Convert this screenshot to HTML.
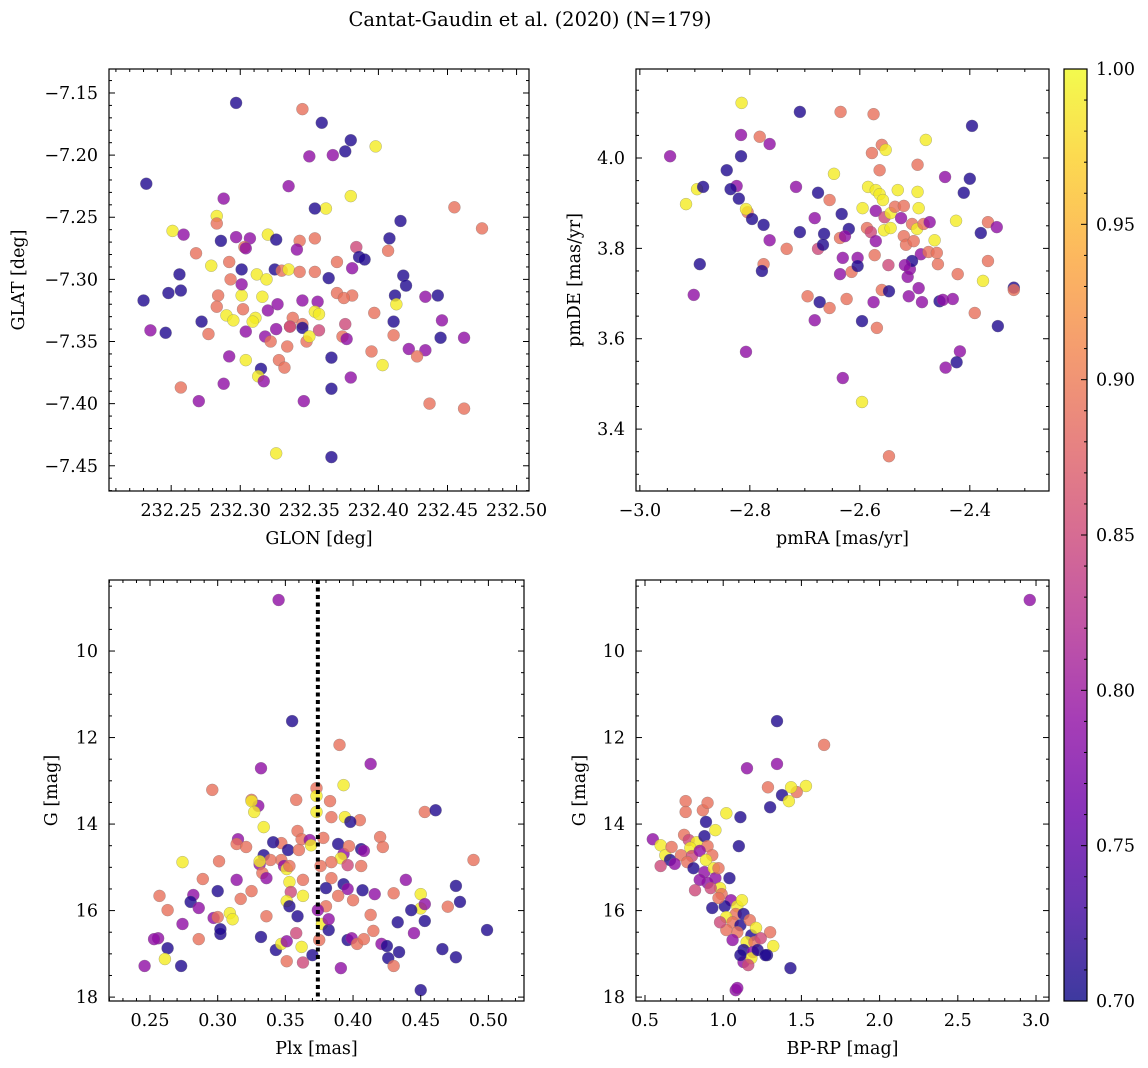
<!DOCTYPE html>
<html><head><meta charset="utf-8">
<style>
html,body{margin:0;padding:0;background:#fff;}
svg{display:block;font-family:"DejaVu Serif","Liberation Serif",serif;}
</style></head>
<body>
<svg id="chart" width="1148" height="1068" viewBox="0 0 1148 1068" xmlns="http://www.w3.org/2000/svg">
<defs>
<linearGradient id="plasma" x1="0" y1="1" x2="0" y2="0">
<stop offset="0" stop-color="#0d0887"/><stop offset="0.1" stop-color="#41049d"/><stop offset="0.2" stop-color="#6a00a8"/><stop offset="0.3" stop-color="#8f0da4"/><stop offset="0.4" stop-color="#b12a90"/><stop offset="0.5" stop-color="#cc4778"/><stop offset="0.6" stop-color="#e16462"/><stop offset="0.7" stop-color="#f2844b"/><stop offset="0.8" stop-color="#fca636"/><stop offset="0.9" stop-color="#fcce25"/><stop offset="1" stop-color="#f0f921"/>
</linearGradient>
</defs>
<text x="530" y="26" font-size="19.5" text-anchor="middle">Cantat-Gaudin et al. (2020) (N=179)</text>
</svg>
<script>
// ---- data (color classes: B=0.71, P=0.79, K=0.85, O=0.89, Y=0.99) ----
const B=0.71,P=0.79,K=0.85,O=0.89,Y=0.99;
const glon=[232.232,232.297,232.345,232.359,232.380,232.376,232.367,232.350,232.398,232.335,232.288,232.380,232.362,232.354,232.455,232.475,232.416,232.251,232.259,232.283,232.283,232.297,232.307,232.320,232.326,232.343,232.354,232.286,232.303,232.384,232.386,232.390,232.408,232.407,232.268,232.230,232.248,232.257,232.256,232.279,232.292,232.293,232.301,232.312,232.319,232.325,232.330,232.335,232.343,232.354,232.364,232.370,232.341,232.381,232.418,232.420,232.443,232.412,232.434,232.284,232.301,232.316,232.301,232.327,232.345,232.356,232.370,232.381,232.375,232.413,232.397,232.283,232.290,232.302,232.311,232.320,232.338,232.345,232.354,232.357,232.336,232.235,232.246,232.272,232.295,232.309,232.277,232.304,232.318,232.326,232.336,232.345,232.357,232.376,232.374,232.411,232.411,232.446,232.445,232.462,232.257,232.270,232.288,232.292,232.304,232.315,232.313,232.317,232.322,232.334,232.328,232.332,232.348,232.350,232.366,232.366,232.380,232.377,232.395,232.403,232.422,232.434,232.428,232.346,232.437,232.462,232.326,232.366,232.304];
const glat=[-7.223,-7.158,-7.163,-7.174,-7.188,-7.197,-7.200,-7.201,-7.193,-7.225,-7.235,-7.233,-7.243,-7.243,-7.242,-7.259,-7.253,-7.261,-7.264,-7.249,-7.255,-7.266,-7.267,-7.264,-7.268,-7.269,-7.267,-7.269,-7.274,-7.274,-7.282,-7.284,-7.267,-7.277,-7.279,-7.317,-7.311,-7.309,-7.296,-7.289,-7.286,-7.300,-7.292,-7.296,-7.300,-7.292,-7.293,-7.292,-7.294,-7.294,-7.299,-7.286,-7.276,-7.291,-7.297,-7.305,-7.313,-7.313,-7.314,-7.313,-7.313,-7.314,-7.304,-7.320,-7.317,-7.318,-7.311,-7.313,-7.315,-7.320,-7.327,-7.322,-7.329,-7.324,-7.331,-7.325,-7.331,-7.336,-7.326,-7.328,-7.338,-7.341,-7.343,-7.334,-7.333,-7.334,-7.344,-7.342,-7.346,-7.340,-7.338,-7.339,-7.341,-7.336,-7.346,-7.334,-7.345,-7.333,-7.347,-7.347,-7.387,-7.398,-7.384,-7.362,-7.365,-7.372,-7.378,-7.382,-7.350,-7.354,-7.365,-7.371,-7.350,-7.346,-7.363,-7.388,-7.379,-7.348,-7.358,-7.369,-7.356,-7.357,-7.362,-7.398,-7.400,-7.404,-7.440,-7.443,-7.275];
const c1=[B,B,O,B,B,B,P,P,Y,P,P,Y,Y,B,O,O,B,Y,P,Y,O,P,P,Y,B,O,O,B,O,K,B,B,B,O,O,B,B,B,B,Y,O,O,B,Y,Y,B,O,Y,O,O,B,O,P,P,B,B,B,B,P,O,Y,Y,P,P,P,P,O,O,O,Y,O,O,Y,O,Y,P,O,O,Y,Y,O,P,B,B,Y,Y,O,P,P,P,K,B,K,K,O,B,O,P,B,P,O,P,P,P,Y,B,Y,P,O,O,O,O,O,Y,B,B,P,P,O,Y,P,P,O,P,O,O,Y,B,P];

const pmra=[-2.945,-2.916,-2.896,-2.885,-2.842,-2.815,-2.816,-2.816,-2.824,-2.835,-2.782,-2.764,-2.709,-2.635,-2.891,-2.902,-2.804,-2.807,-2.82,-2.807,-2.796,-2.775,-2.764,-2.775,-2.778,-2.733,-2.716,-2.709,-2.695,-2.682,-2.676,-2.676,-2.665,-2.667,-2.673,-2.682,-2.655,-2.647,-2.655,-2.636,-2.633,-2.62,-2.627,-2.631,-2.636,-2.624,-2.631,-2.615,-2.604,-2.604,-2.596,-2.596,-2.585,-2.578,-2.571,-2.595,-2.587,-2.575,-2.571,-2.58,-2.571,-2.573,-2.56,-2.575,-2.569,-2.564,-2.564,-2.56,-2.558,-2.555,-2.556,-2.548,-2.547,-2.553,-2.547,-2.544,-2.544,-2.536,-2.531,-2.525,-2.52,-2.52,-2.516,-2.513,-2.509,-2.502,-2.505,-2.511,-2.496,-2.495,-2.495,-2.493,-2.489,-2.493,-2.487,-2.484,-2.48,-2.475,-2.473,-2.464,-2.46,-2.458,-2.455,-2.445,-2.444,-2.449,-2.431,-2.425,-2.422,-2.418,-2.424,-2.411,-2.4,-2.396,-2.391,-2.376,-2.38,-2.367,-2.351,-2.349,-2.367,-2.32,-2.32,-2.505,-2.518];
const pmde=[4.004,3.898,3.931,3.936,3.973,4.122,4.051,4.004,3.938,3.931,4.047,4.031,4.102,4.102,3.765,3.697,3.880,3.571,3.91,3.887,3.865,3.852,3.818,3.765,3.750,3.799,3.936,3.836,3.694,3.867,3.799,3.923,3.832,3.808,3.681,3.641,3.668,3.965,3.907,3.823,3.876,3.843,3.827,3.779,3.743,3.688,3.513,3.748,3.779,3.761,3.639,3.46,3.936,4.011,3.929,3.889,3.845,4.097,3.883,3.836,3.816,3.785,3.708,3.681,3.624,3.92,3.973,4.029,3.907,3.869,3.84,3.763,3.705,4.018,3.34,3.845,3.878,3.892,3.929,3.867,3.894,3.827,3.808,3.737,3.754,3.816,3.854,3.694,3.843,3.985,3.925,3.889,3.787,3.712,3.681,3.854,4.04,3.792,3.858,3.818,3.790,3.765,3.683,3.958,3.536,3.686,3.688,3.861,3.743,3.572,3.548,3.923,3.954,4.071,3.657,3.728,3.834,3.858,3.847,3.628,3.772,3.713,3.708,3.772,3.763];
const c2=[P,Y,Y,B,B,Y,P,B,P,B,O,P,B,O,B,P,O,P,B,Y,B,B,P,O,B,O,P,B,O,P,K,B,B,B,B,P,O,Y,O,O,B,B,P,P,P,O,P,O,P,B,B,Y,Y,O,Y,Y,O,O,P,K,P,O,O,P,O,Y,O,O,Y,K,Y,K,B,Y,O,Y,Y,O,Y,P,O,O,O,P,P,O,O,P,Y,O,Y,Y,P,P,P,O,Y,O,P,Y,O,O,B,P,P,P,P,Y,O,P,B,B,B,B,O,Y,B,O,P,B,O,B,O,B,P];

const plx=[0.345,0.355,0.390,0.413,0.332,0.296,0.393,0.373,0.373,0.325,0.330,0.358,0.383,0.325,0.327,0.373,0.453,0.461,0.334,0.394,0.405,0.384,0.398,0.315,0.314,0.321,0.359,0.362,0.347,0.341,0.334,0.331,0.352,0.360,0.368,0.369,0.378,0.389,0.393,0.397,0.406,0.408,0.420,0.422,0.406,0.391,0.396,0.384,0.376,0.347,0.339,0.331,0.349,0.351,0.353,0.301,0.274,0.289,0.282,0.257,0.300,0.314,0.317,0.325,0.333,0.336,0.353,0.354,0.351,0.363,0.363,0.384,0.380,0.393,0.396,0.389,0.400,0.407,0.416,0.430,0.439,0.450,0.450,0.470,0.476,0.479,0.489,0.453,0.263,0.256,0.280,0.286,0.297,0.300,0.302,0.302,0.309,0.311,0.286,0.274,0.253,0.263,0.261,0.273,0.246,0.332,0.336,0.343,0.347,0.351,0.351,0.353,0.358,0.359,0.362,0.370,0.375,0.377,0.380,0.382,0.374,0.391,0.396,0.399,0.403,0.408,0.413,0.415,0.421,0.425,0.426,0.430,0.434,0.433,0.445,0.453,0.443,0.450,0.466,0.476,0.499,0.382,0.363];
const g3=[8.82,11.62,12.17,12.61,12.71,13.21,13.10,13.17,13.35,13.44,13.58,13.44,13.47,13.47,13.72,13.72,13.72,13.68,14.07,13.84,13.91,13.84,13.95,14.35,14.46,14.53,14.16,14.35,14.44,14.42,14.72,14.93,14.60,14.60,14.37,14.49,14.32,14.46,14.69,14.51,14.58,14.62,14.30,14.53,14.97,14.79,14.95,14.88,14.97,14.83,14.83,14.86,14.97,15.04,14.97,14.86,14.88,15.27,15.64,15.66,15.55,15.29,15.73,15.55,15.13,15.25,15.34,15.57,15.78,15.29,15.66,15.25,15.48,15.39,15.50,15.66,15.76,15.53,15.62,15.60,15.29,15.62,15.95,15.91,15.43,15.80,14.83,15.85,15.99,16.64,15.80,15.94,16.17,16.15,16.54,16.43,16.06,16.20,16.66,16.31,16.66,16.87,17.12,17.28,17.28,16.61,16.13,16.91,16.77,16.71,17.17,15.90,16.52,16.13,16.84,17.03,16.68,16.31,15.90,16.45,15.99,17.33,16.68,16.64,16.77,16.66,16.10,16.47,16.77,16.82,17.10,17.28,16.96,16.27,16.52,16.24,15.99,17.84,16.89,17.08,16.45,16.20,17.20];
const c3=[P,B,O,P,P,O,Y,O,Y,O,P,O,O,Y,Y,Y,O,B,Y,Y,O,O,B,P,O,O,O,O,O,B,B,P,B,O,P,Y,O,B,P,O,B,P,O,O,O,Y,K,O,O,O,O,Y,P,Y,O,O,Y,O,P,O,B,P,O,O,O,P,Y,K,Y,O,Y,O,B,B,P,O,O,B,P,O,P,Y,Y,O,B,B,O,P,O,P,B,P,P,O,B,B,Y,Y,O,P,P,B,Y,B,P,B,O,B,Y,P,O,B,K,B,Y,B,O,Y,O,B,P,P,B,P,O,O,O,O,P,B,B,O,B,B,P,B,B,B,B,B,B,P,K];
const plxLine=0.374;

const bprp=[2.96,1.344,1.645,1.344,1.152,1.529,1.47,1.434,1.286,1.376,1.42,1.30,0.55,0.76,0.76,0.87,0.90,1.02,0.89,0.95,1.11,1.10,0.75,0.78,0.83,0.88,0.90,0.79,0.73,0.80,0.85,0.93,0.89,0.77,0.81,0.88,0.94,0.95,0.97,0.90,0.98,0.99,1.05,1.09,1.01,1.08,1.13,1.02,1.06,1.11,1.18,1.09,1.15,1.20,1.13,1.19,1.13,1.18,1.22,1.30,1.32,1.28,1.43,1.08,1.09,1.27,0.60,0.63,0.66,0.69,0.67,0.60,0.92,0.97,1.04,0.85,0.82,0.93,1.02,1.06,1.11,1.16,0.98,1.12,1.17,1.21,1.24];
const g4=[8.82,11.62,12.17,12.61,12.71,13.12,13.26,13.15,13.15,13.33,13.47,13.61,14.35,13.47,13.72,13.68,13.51,13.75,13.95,14.14,13.84,14.51,14.25,14.37,14.42,14.28,14.51,14.55,14.72,14.74,14.62,14.72,14.83,14.88,15.02,15.11,15.02,15.25,15.02,15.36,15.48,15.62,15.76,15.90,15.90,16.08,16.08,16.15,16.27,16.34,16.57,16.50,16.73,16.73,16.91,16.96,17.19,17.10,16.91,16.50,16.82,17.03,17.33,17.84,17.79,17.03,14.49,14.72,14.83,14.92,14.53,14.97,15.48,15.71,15.25,15.29,15.53,15.94,16.45,16.68,17.03,17.26,16.27,15.76,16.22,16.40,16.64];
const c4=[P,B,O,P,P,Y,O,Y,O,B,Y,B,P,O,O,O,O,Y,B,Y,B,B,O,K,Y,B,O,Y,O,K,P,O,Y,O,B,P,Y,P,O,P,Y,O,P,Y,B,O,B,Y,O,B,B,O,Y,O,B,P,P,Y,B,O,Y,B,B,P,P,B,Y,Y,B,P,O,K,K,O,B,P,K,B,O,P,B,K,K,Y,O,Y,K];

// ---- ticks ----
const xt1=[232.25,232.30,232.35,232.40,232.45,232.50], xl1=["232.25","232.30","232.35","232.40","232.45","232.50"];
const yt1=[-7.15,-7.20,-7.25,-7.30,-7.35,-7.40,-7.45], yl1=["\u22127.15","\u22127.20","\u22127.25","\u22127.30","\u22127.35","\u22127.40","\u22127.45"];
const xt2=[-3.0,-2.8,-2.6,-2.4], xl2=["\u22123.0","\u22122.8","\u22122.6","\u22122.4"];
const yt2=[3.4,3.6,3.8,4.0], yl2=["3.4","3.6","3.8","4.0"];
const xt3=[0.25,0.30,0.35,0.40,0.45,0.50], xl3=["0.25","0.30","0.35","0.40","0.45","0.50"];
const yt34=[10,12,14,16,18], yl34=["10","12","14","16","18"];
const xt4=[0.5,1.0,1.5,2.0,2.5,3.0], xl4=["0.5","1.0","1.5","2.0","2.5","3.0"];
const cbt=[0.70,0.75,0.80,0.85,0.90,0.95,1.00], cbl=["0.70","0.75","0.80","0.85","0.90","0.95","1.00"];

const svg=document.getElementById('chart');
const NS='http://www.w3.org/2000/svg';
function mk(tag,attrs,parent){const e=document.createElementNS(NS,tag);for(const k in attrs)e.setAttribute(k,attrs[k]);(parent||svg).appendChild(e);return e;}
const stops=[[13,8,135],[65,4,157],[106,0,168],[143,13,164],[177,42,144],[204,71,120],[225,100,98],[242,132,75],[252,166,54],[252,206,37],[240,249,33]];
function cmap(v){let t=(v-0.7)/0.3;t=Math.max(0,Math.min(1,t))*10;const i=Math.min(9,Math.floor(t)),f=t-i;const a=stops[i],b=stops[i+1];return 'rgb('+[0,1,2].map(j=>Math.round(a[j]+(b[j]-a[j])*f)).join(',')+')';}
const FS=17.5;

function panel(o){
  const sx=v=>o.L+(v-o.x0)/(o.x1-o.x0)*(o.R-o.L);
  const sy=v=>o.T+(v-o.y0)/(o.y1-o.y0)*(o.Bt-o.T);
  const g=mk('g',{});
  
  
  const pts=mk('g',{},g);
  
  
  for(let i=0;i<o.xs.length;i++){
    const c=mk('circle',{cx:sx(o.xs[i]),cy:sy(o.ys[i]),r:6,fill:cmap(o.cs[i]),'fill-opacity':0.8,stroke:'#777','stroke-width':0.4,'stroke-opacity':0.7},pts);
    
    
  }
  if(o.vline!==undefined){
    const l=mk('line',{x1:sx(o.vline),x2:sx(o.vline),y1:o.T,y2:o.Bt,stroke:'#000','stroke-width':4,'stroke-dasharray':'4,3.5'},g);
    
    
  }
  const fr=mk('rect',{x:o.L,y:o.T,width:o.R-o.L,height:o.Bt-o.T,fill:'none',stroke:'#000','stroke-width':1.2},g);
  
  
  const xstep=o.xt[1]-o.xt[0];
  for(let k=-1;k<o.xt.length;k++){
    const base=o.xt[0]+k*xstep;
    for(let m=0;m<o.xnd;m++){
      const v=base+m*xstep/o.xnd; const px=sx(v);
      if(px<o.L-0.1||px>o.R+0.1) continue;
      const len=m===0?6:3;
      mk('line',{x1:px,x2:px,y1:o.Bt,y2:o.Bt-len,stroke:'#000','stroke-width':1},g);
      mk('line',{x1:px,x2:px,y1:o.T,y2:o.T+len,stroke:'#000','stroke-width':1},g);
    }
  }
  o.xt.forEach((v,i)=>{const t=mk('text',{x:sx(v),y:o.Bt+25,'font-size':FS,'text-anchor':'middle'},g);t.textContent=o.xl[i];
    
    });
  const ystep=o.yt[1]-o.yt[0];
  for(let k=-1;k<o.yt.length;k++){
    const base=o.yt[0]+k*ystep;
    for(let m=0;m<o.ynd;m++){
      const v=base+m*ystep/o.ynd; const py=sy(v);
      if(py<o.T-0.1||py>o.Bt+0.1) continue;
      const len=m===0?6:3;
      mk('line',{x1:o.L,x2:o.L+len,y1:py,y2:py,stroke:'#000','stroke-width':1},g);
      mk('line',{x1:o.R,x2:o.R-len,y1:py,y2:py,stroke:'#000','stroke-width':1},g);
    }
  }
  o.yt.forEach((v,i)=>{const t=mk('text',{x:o.L-11,y:sy(v)+6,'font-size':FS,'text-anchor':'end'},g);t.textContent=o.yl[i];
    
    });
  const xl=mk('text',{x:(o.L+o.R)/2,y:o.Bt+53,'font-size':FS,'text-anchor':'middle'},g);xl.textContent=o.xlab;
  
  
  const yl=mk('text',{x:o.ylx,y:(o.T+o.Bt)/2,'font-size':FS,'text-anchor':'middle',transform:'rotate(-90 '+o.ylx+' '+((o.T+o.Bt)/2)+')'},g);yl.textContent=o.ylab;
  
  
}

panel({name:'glon-glat-panel',L:109,R:529,T:69,Bt:491,x0:232.205,x1:232.509,y0:-7.1307,y1:-7.4703,xs:glon,ys:glat,cs:c1,xt:xt1,xl:xl1,xnd:5,yt:yt1,yl:yl1,ynd:5,xlab:'GLON [deg]',ylab:'GLAT [deg]',ylx:24});
panel({name:'proper-motion-panel',L:636,R:1049,T:69,Bt:491,x0:-3.007,x1:-2.256,y0:4.197,y1:3.263,xs:pmra,ys:pmde,cs:c2,xt:xt2,xl:xl2,xnd:4,yt:yt2,yl:yl2,ynd:4,xlab:'pmRA [mas/yr]',ylab:'pmDE [mas/yr]',ylx:580});
panel({name:'parallax-panel',L:109,R:524,T:580,Bt:1001,x0:0.2197,x1:0.5263,y0:8.358,y1:18.09,xs:plx,ys:g3,cs:c3,xt:xt3,xl:xl3,xnd:5,yt:yt34,yl:yl34,ynd:4,xlab:'Plx [mas]',ylab:'G [mag]',ylx:57,vline:plxLine});
panel({name:'cmd-panel',L:636,R:1049,T:580,Bt:1001,x0:0.4425,x1:3.083,y0:8.358,y1:18.09,xs:bprp,ys:g4,cs:c4,xt:xt4,xl:xl4,xnd:5,yt:yt34,yl:yl34,ynd:4,xlab:'BP-RP [mag]',ylab:'G [mag]',ylx:585});

const cb=mk('g',{});


const cT=69,cB=1001,cL=1064,cR=1087;
const cy=v=>cB-(v-0.7)/0.3*(cB-cT);
mk('rect',{x:cL,y:cT,width:cR-cL,height:cB-cT,fill:'url(#plasma)','fill-opacity':0.8},cb);
mk('rect',{x:cL,y:cT,width:cR-cL,height:cB-cT,fill:'none',stroke:'#000','stroke-width':1.2},cb);
for(let k=0;k<cbt.length;k++){
  for(let m=0;m<5;m++){
    if(k===cbt.length-1&&m>0)break;
    const v=cbt[k]+m*0.01;const py=cy(v);
    mk('line',{x1:cR,x2:cR-(m===0?6:3),y1:py,y2:py,stroke:'#000','stroke-width':1},cb);
  }
  const t=mk('text',{x:cR+9,y:cy(cbt[k])+6,'font-size':FS},cb);t.textContent=cbl[k];
  
  
}
</script>
</body></html>
